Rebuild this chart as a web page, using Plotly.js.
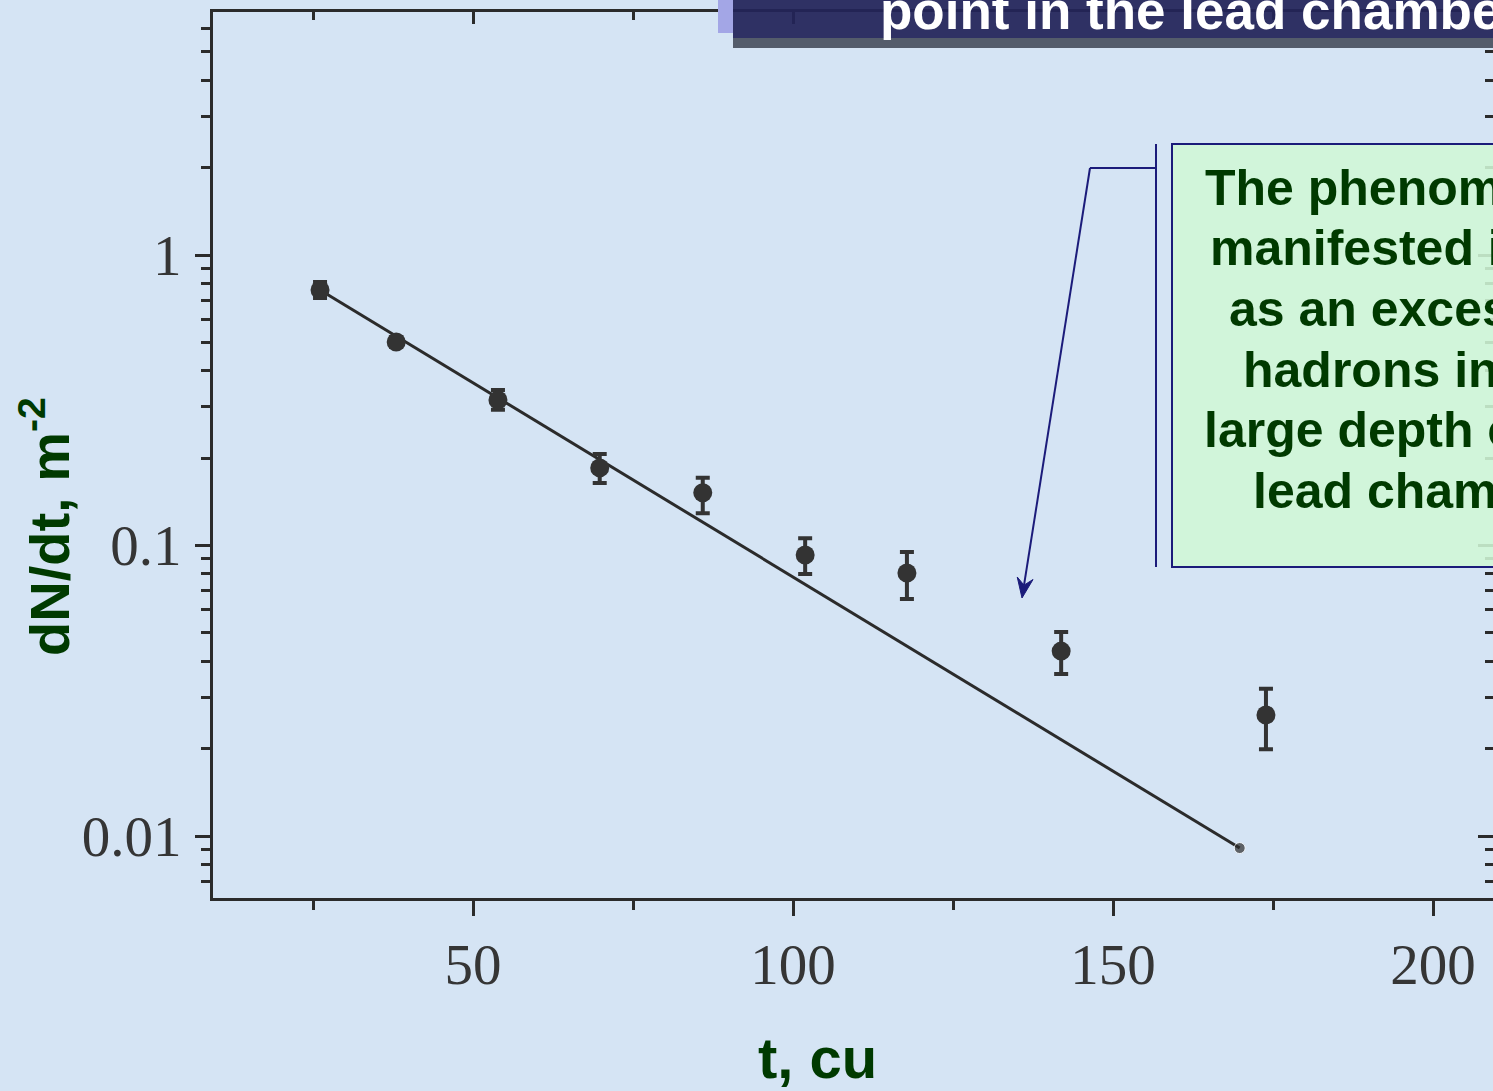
<!DOCTYPE html>
<html>
<head>
<meta charset="utf-8">
<script src="https://cdn.plot.ly/plotly-3.0.1.min.js"></script>
<style>
  html, body { margin: 0; padding: 0; background: #d6e5f4; }
  #chart { width: 1493px; height: 1091px; }
</style>
</head>
<body>
<div id="chart"></div>
<script>
// ---- data ----
const depthT   = [26.1, 38.0, 53.9, 69.8, 85.9, 101.9, 117.8, 141.9, 173.9];
const fluxV    = [0.758, 0.502, 0.317, 0.185, 0.152, 0.0927, 0.0804, 0.0433, 0.0261];
const errUp    = [0.049, 0.020, 0.026, 0.0215, 0.019, 0.0133, 0.0146, 0.0071, 0.0060];
const errDown  = [0.047, 0.020, 0.024, 0.021, 0.023, 0.0129, 0.0149, 0.0072, 0.0062];
const fitT     = [26.1, 169.8];
const fitV     = [0.758, 0.00909];
const xTickVals = [50, 100, 150, 200];
const xTickText = ['50', '100', '150', '200'];
const xMinorVals = [25, 75, 125, 175];
const yTickVals = [0.01, 0.1, 1];
const yTickText = ['0.01', '0.1', '1'];
const yMinorVals = [0.007, 0.008, 0.009, 0.02, 0.03, 0.04, 0.05, 0.06, 0.07, 0.08, 0.09,
                    0.2, 0.3, 0.4, 0.5, 0.6, 0.7, 0.8, 0.9, 2, 3, 4, 5, 6];
const boxLines = ['The phenomenon is', 'manifested itself', 'as an excess of',
                  'hadrons in the', 'large depth of the', 'lead chamber'];
const bannerText = 'point in the lead chamber';
const xTitle = 't, cu';
const yTitle = 'dN/dt, m<sup>-2</sup>';

// ---- layout helpers (pixel -> paper) ----
const L = 213, R = 1493, T = 12, B = 898;
const px = x => (x - L) / (R - L);
const py = y => (B - y) / (B - T);

const ink = '#2b2b2b';
const navy = '#1b1b7a';
const green = '#003a00';

const traces = [
  {
    x: fitT, y: fitV, type: 'scatter', mode: 'lines+markers',
    line: { color: ink, width: 3 },
    marker: { color: ink, size: [0, 11] },
    hoverinfo: 'skip', showlegend: false
  },
  {
    x: depthT, y: fluxV, type: 'scatter', mode: 'markers',
    marker: { color: '#333333', size: 19 },
    error_y: { type: 'data', symmetric: false, array: errUp, arrayminus: errDown,
               color: '#333333', thickness: 4, width: 7 },
    showlegend: false
  },
  { x: [fitT[0]], y: [fitV[0]], xaxis: 'x2', yaxis: 'y2', type: 'scatter', mode: 'markers',
    marker: { size: 1, opacity: 0 }, showlegend: false, hoverinfo: 'skip' }
];

const xr = [(L - 153) / 6.4, (R - 153) / 6.4];
const yr = [-(B - 255) / 290.5, (255 - T) / 290.5];

const tickFont = { family: '"Liberation Serif", "Times New Roman", serif', size: 57, color: '#353535' };

// arrow head geometry (pixels)
const tip = [1022, 598], tail = [1090, 168];
const dl = Math.hypot(tip[0] - tail[0], tip[1] - tail[1]);
const dir = [(tip[0] - tail[0]) / dl, (tip[1] - tail[1]) / dl];
const perp = [-dir[1], dir[0]];
const hb = [tip[0] - 20 * dir[0], tip[1] - 20 * dir[1]];
const notch = [tip[0] - 13 * dir[0], tip[1] - 13 * dir[1]];
const w1 = [hb[0] + 8 * perp[0], hb[1] + 8 * perp[1]];
const w2 = [hb[0] - 8 * perp[0], hb[1] - 8 * perp[1]];
const P = p => px(p[0]) + ',' + py(p[1]);
const headPath = 'M' + P(tip) + ' L' + P(w1) + ' L' + P(notch) + ' L' + P(w2) + ' Z';

const layout = {
  width: 1493, height: 1091, autosize: false,
  margin: { l: L, r: 1493 - R, t: T, b: 1091 - B, pad: 0 },
  paper_bgcolor: '#d5e4f4', plot_bgcolor: '#d5e4f4',
  showlegend: false,
  xaxis: {
    range: xr, showgrid: false, zeroline: false,
    showline: true, linecolor: ink, linewidth: 3, mirror: true,
    ticks: 'outside', ticklen: 15, tickwidth: 3, tickcolor: ink,
    tickvals: xTickVals, ticktext: xTickText, tickfont: tickFont,
    ticklabelstandoff: 0,
    minor: { tickvals: xMinorVals, ticks: 'outside', ticklen: 9, tickwidth: 3, tickcolor: ink, showgrid: false }
  },
  yaxis: {
    type: 'log', range: yr, showgrid: false, zeroline: false,
    showline: true, linecolor: ink, linewidth: 3, mirror: true,
    ticks: 'outside', ticklen: 15, tickwidth: 3, tickcolor: ink,
    tickvals: yTickVals, ticktext: yTickText, tickfont: tickFont,
    ticklabelstandoff: 2,
    minor: { ticks: 'outside', ticklen: 9, tickwidth: 3, tickcolor: ink, showgrid: false, tickvals: yMinorVals }
  },
  xaxis2: {
    overlaying: 'x', side: 'top', range: xr, showgrid: false, zeroline: false,
    showline: false, showticklabels: false,
    ticks: 'inside', ticklen: 12, tickwidth: 3, tickcolor: ink, tickvals: xTickVals,
    minor: { tickvals: xMinorVals, ticks: 'inside', ticklen: 8, tickwidth: 3, tickcolor: ink, showgrid: false }
  },
  yaxis2: {
    overlaying: 'y', side: 'right', type: 'log', range: yr, showgrid: false, zeroline: false,
    showline: false, showticklabels: false,
    ticks: 'inside', ticklen: 15, tickwidth: 3, tickcolor: ink, tickvals: yTickVals,
    minor: { ticks: 'inside', ticklen: 8, tickwidth: 3, tickcolor: ink, showgrid: false, tickvals: yMinorVals }
  },
  shapes: [
    // banner
    { type: 'rect', xref: 'paper', yref: 'paper', x0: px(718), x1: px(733), y0: py(33), y1: py(-5),
      fillcolor: '#a3a6e6', line: { width: 0 }, layer: 'above' },
    { type: 'rect', xref: 'paper', yref: 'paper', x0: px(733), x1: px(1600), y0: py(38), y1: py(-5),
      fillcolor: 'rgba(34,36,88,0.93)', line: { width: 0 }, layer: 'above' },
    { type: 'rect', xref: 'paper', yref: 'paper', x0: px(733), x1: px(1600), y0: py(48), y1: py(38),
      fillcolor: 'rgba(70,76,92,0.9)', line: { width: 0 }, layer: 'above' },
    // callout box
    { type: 'rect', xref: 'paper', yref: 'paper', x0: px(1172), x1: px(1700), y0: py(567), y1: py(144),
      fillcolor: 'rgba(208,247,214,0.88)', line: { color: navy, width: 2 }, layer: 'above' },
    { type: 'line', xref: 'paper', yref: 'paper', x0: px(1156), x1: px(1156), y0: py(567), y1: py(144),
      line: { color: navy, width: 2 }, layer: 'above' },
    { type: 'line', xref: 'paper', yref: 'paper', x0: px(1156), x1: px(1090), y0: py(168), y1: py(168),
      line: { color: navy, width: 2 }, layer: 'above' },
    { type: 'line', xref: 'paper', yref: 'paper', x0: px(tail[0]), x1: px(notch[0]), y0: py(tail[1]), y1: py(notch[1]),
      line: { color: navy, width: 2 }, layer: 'above' },
    { type: 'path', xref: 'paper', yref: 'paper', path: headPath,
      fillcolor: navy, line: { color: navy, width: 1 }, layer: 'above' }
  ],
  annotations: [
    { xref: 'paper', yref: 'paper', x: px(878), y: py(28 - 18), xanchor: 'left', yanchor: 'middle',
      text: '<b>' + bannerText + '</b>', showarrow: false,
      font: { family: 'Liberation Sans, Arial, sans-serif', size: 53, color: '#ffffff' } },
    { xref: 'paper', yref: 'paper', x: px(817), y: py(1057), xanchor: 'center', yanchor: 'middle',
      text: '<b>' + xTitle + '</b>', showarrow: false,
      font: { family: 'Liberation Sans, Arial, sans-serif', size: 58, color: green } },
    { xref: 'paper', yref: 'paper', x: px(45), y: py(527), xanchor: 'center', yanchor: 'middle',
      text: '<b>' + yTitle + '</b>', showarrow: false, textangle: -90,
      font: { family: 'Liberation Sans, Arial, sans-serif', size: 56, color: green } }
  ]
};

const lineStarts = [1203, 1208, 1227, 1241, 1202, 1251];
boxLines.forEach((s, i) => {
  const base = 205 + i * 60.5;
  layout.annotations.push({
    xref: 'paper', yref: 'paper', x: px(lineStarts[i]), y: py(base - 17),
    xanchor: 'left', yanchor: 'middle', showarrow: false,
    text: '<b>' + s + '</b>',
    font: { family: 'Liberation Sans, Arial, sans-serif', size: 50, color: green }
  });
});

Plotly.newPlot('chart', traces, layout, { displayModeBar: false, staticPlot: true });
</script>
</body>
</html>
